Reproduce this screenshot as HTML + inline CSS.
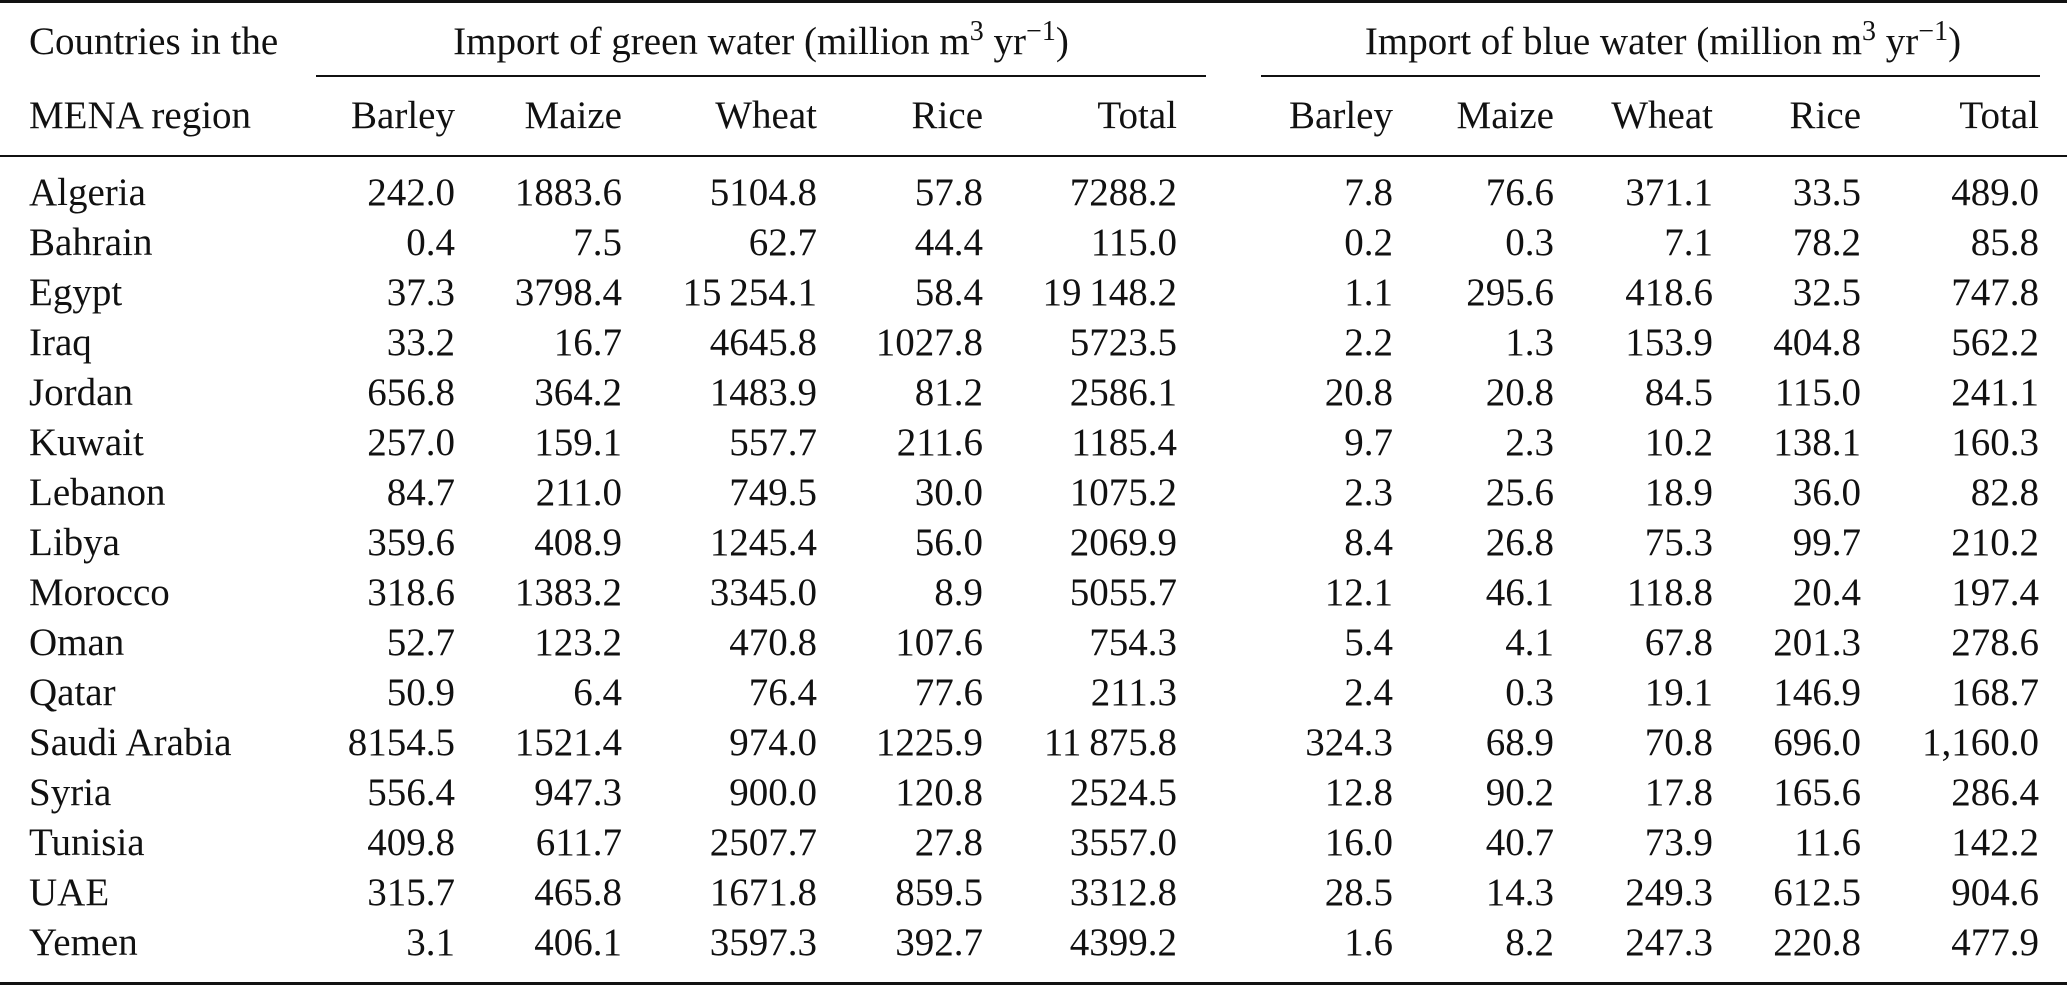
<!DOCTYPE html>
<html><head><meta charset="utf-8"><style>
html,body{margin:0;padding:0;background:#fff;}
svg{display:block;}
text{font-family:"Liberation Serif",serif;font-size:39px;fill:#111;}
</style></head><body>
<svg id="tbl" width="2067" height="986" viewBox="0 0 2067 986" xmlns="http://www.w3.org/2000/svg">
<rect x="0" y="0" width="2067" height="3" fill="#111"/>
<rect x="316" y="75" width="890" height="2" fill="#111"/>
<rect x="1261" y="75" width="779" height="2" fill="#111"/>
<rect x="0" y="155" width="2067" height="2" fill="#111"/>
<rect x="0" y="982" width="2067" height="3" fill="#111"/>
<text x="29" y="54">Countries in the</text>
<text x="29" y="128">MENA region</text>
<text x="761" y="54" text-anchor="middle">Import of green water (million m<tspan dy="-14" font-size="28">3</tspan><tspan dy="14"> yr</tspan><tspan dy="-14" font-size="28">−1</tspan><tspan dy="14">)</tspan></text>
<text x="1663" y="54" text-anchor="middle">Import of blue water (million m<tspan dy="-14" font-size="28">3</tspan><tspan dy="14"> yr</tspan><tspan dy="-14" font-size="28">−1</tspan><tspan dy="14">)</tspan></text>
</svg>
<script>
const columns = ["Barley","Maize","Wheat","Rice","Total","Barley","Maize","Wheat","Rice","Total"];
const countries = ["Algeria","Bahrain","Egypt","Iraq","Jordan","Kuwait","Lebanon","Libya","Morocco","Oman","Qatar","Saudi Arabia","Syria","Tunisia","UAE","Yemen"];
const greenValues = [
["242.0","1883.6","5104.8","57.8","7288.2"],
["0.4","7.5","62.7","44.4","115.0"],
["37.3","3798.4","15\u2009254.1","58.4","19\u2009148.2"],
["33.2","16.7","4645.8","1027.8","5723.5"],
["656.8","364.2","1483.9","81.2","2586.1"],
["257.0","159.1","557.7","211.6","1185.4"],
["84.7","211.0","749.5","30.0","1075.2"],
["359.6","408.9","1245.4","56.0","2069.9"],
["318.6","1383.2","3345.0","8.9","5055.7"],
["52.7","123.2","470.8","107.6","754.3"],
["50.9","6.4","76.4","77.6","211.3"],
["8154.5","1521.4","974.0","1225.9","11\u2009875.8"],
["556.4","947.3","900.0","120.8","2524.5"],
["409.8","611.7","2507.7","27.8","3557.0"],
["315.7","465.8","1671.8","859.5","3312.8"],
["3.1","406.1","3597.3","392.7","4399.2"]];
const blueValues = [
["7.8","76.6","371.1","33.5","489.0"],
["0.2","0.3","7.1","78.2","85.8"],
["1.1","295.6","418.6","32.5","747.8"],
["2.2","1.3","153.9","404.8","562.2"],
["20.8","20.8","84.5","115.0","241.1"],
["9.7","2.3","10.2","138.1","160.3"],
["2.3","25.6","18.9","36.0","82.8"],
["8.4","26.8","75.3","99.7","210.2"],
["12.1","46.1","118.8","20.4","197.4"],
["5.4","4.1","67.8","201.3","278.6"],
["2.4","0.3","19.1","146.9","168.7"],
["324.3","68.9","70.8","696.0","1,160.0"],
["12.8","90.2","17.8","165.6","286.4"],
["16.0","40.7","73.9","11.6","142.2"],
["28.5","14.3","249.3","612.5","904.6"],
["1.6","8.2","247.3","220.8","477.9"]];

const svg = document.getElementById('tbl');
const NS = "http://www.w3.org/2000/svg";
const colRight = [455,622,817,983,1177,1393,1554,1713,1861,2039];
const firstRow = 205, rowPitch = 50;
function mk(txt,x,y,anchor){
  const t = document.createElementNS(NS,'text');
  t.setAttribute('x',x); t.setAttribute('y',y);
  if(anchor) t.setAttribute('text-anchor',anchor);
  t.textContent = txt; svg.appendChild(t); return t;
}
columns.forEach((c,i)=>{
  const t = mk(c,colRight[i],128,'end');
  
  
});
countries.forEach((c,r)=>{
  const y = firstRow + r*rowPitch;
  const t = mk(c,29,y);
  
  
  greenValues[r].forEach((v,i)=>{
    const e = mk(v,colRight[i],y,'end');
    
    
  });
  blueValues[r].forEach((v,i)=>{
    const e = mk(v,colRight[i+5],y,'end');
    
    
  });
});
</script>
</body></html>
